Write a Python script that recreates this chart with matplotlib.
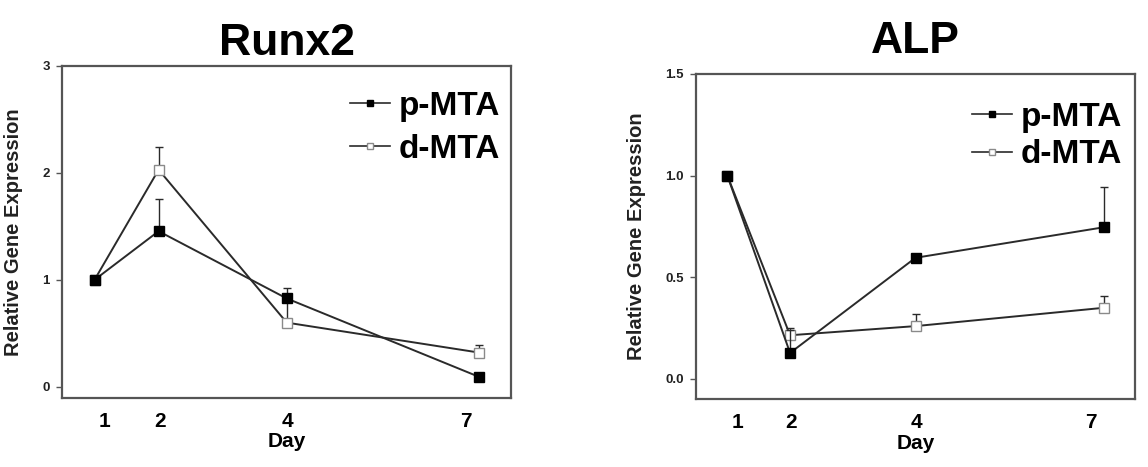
import matplotlib
matplotlib.use("Agg")
import matplotlib.pyplot as plt
import matplotlib.transforms as mtransforms
from matplotlib.lines import Line2D
import numpy as np

plt.rcParams['font.family'] = ['Liberation Sans', 'DejaVu Sans']

days = [1, 2, 4, 7]
day_labels = ['1', '2', '4', '7']
series_names = ['p-MTA', 'd-MTA']

runx2_p = [1.0, 1.455, 0.826, 0.093]
runx2_p_err = [0.0, 0.305, 0.094, 0.0]
runx2_d = [1.0, 2.03, 0.60, 0.32]
runx2_d_err = [0.0, 0.21, 0.21, 0.07]

alp_p = [1.0, 0.128, 0.596, 0.746]
alp_p_err = [0.0, 0.115, 0.0, 0.20]
alp_d = [1.0, 0.215, 0.26, 0.35]
alp_d_err = [0.0, 0.035, 0.06, 0.06]

runx2_yticks = [0, 1, 2, 3]
runx2_yticklabels = ['0', '1', '2', '3']
alp_yticks = [0.0, 0.5, 1.0, 1.5]
alp_yticklabels = ['0.0', '0.5', '1.0', '1.5']

W, H = 1148, 467
fig = plt.figure(figsize=(W / 100, H / 100), dpi=100)

line_col = '#2a2a2a'
spine_col = '#555555'
open_edge = '#8a8a8a'
# small horizontal nudges (pixels) of the day labels, as in the original figure
label_nudge_px = [10, 1, 1, -13]


def panel(rect, title, p, perr, d, derr, yticks, yticklabels, ylim, leg_anchor, leg_spacing, title_y):
    ax = fig.add_axes(rect)
    x = np.array(days, dtype=float)
    ax.errorbar(x, d, yerr=[np.zeros(len(d)), derr], color=line_col, lw=1.4,
                marker='s', ms=7.5, mfc='white', mec=open_edge, mew=1.0,
                ecolor=line_col, elinewidth=1.0, capsize=3, capthick=1.0, zorder=2)
    ax.errorbar(x, p, yerr=[np.zeros(len(p)), perr], color=line_col, lw=1.4,
                marker='s', ms=7.5, mfc='black', mec='black', mew=1.0,
                ecolor=line_col, elinewidth=1.0, capsize=3, capthick=1.0, zorder=3)
    ax.set_xlim(0.5, 7.5)
    ax.set_ylim(*ylim)
    ax.set_xticks(days)
    ax.set_xticklabels(day_labels, fontsize=15, fontweight='bold')
    ax.tick_params(axis='x', length=0, pad=10)
    for lab, dx in zip(ax.get_xticklabels(), label_nudge_px):
        lab.set_transform(lab.get_transform() +
                          mtransforms.ScaledTranslation(dx / 100, 0, fig.dpi_scale_trans))
    ax.set_yticks(yticks)
    ax.set_yticklabels(yticklabels, fontsize=9.5, fontweight='bold', color='#222222')
    ax.tick_params(axis='y', length=4, width=1.0, color=spine_col, pad=5)
    for s in ax.spines.values():
        s.set_color(spine_col)
        s.set_linewidth(1.6)
    ax.set_xlabel('Day', fontsize=15, fontweight='bold', labelpad=1)
    ax.set_ylabel('Relative Gene Expression', fontsize=14.5, fontweight='bold', color='#222222')
    handles = [
        Line2D([], [], color=line_col, lw=1.2, marker='s', ms=5, mfc='black', mec='black'),
        Line2D([], [], color=line_col, lw=1.2, marker='s', ms=5, mfc='white', mec=open_edge),
    ]
    ax.legend(handles, series_names, loc='upper right', bbox_to_anchor=leg_anchor,
              frameon=False, prop={'size': 24, 'weight': 'bold'}, handlelength=1.2,
              handletextpad=0.25, labelspacing=leg_spacing,
              borderpad=0, borderaxespad=0)
    bb = ax.get_position()
    fig.text(bb.x0 + bb.width / 2, title_y, title, fontsize=32, fontweight='bold',
             ha='center', va='baseline')
    return ax


ax1 = panel([62.5 / W, 1 - 398 / H, (511 - 62.5) / W, (398 - 66) / H], 'Runx2',
            runx2_p, runx2_p_err, runx2_d, runx2_d_err,
            runx2_yticks, runx2_yticklabels, (-0.105, 3.0), (0.975, 0.925), 0.35,
            1 - 55 / H)
ax1.yaxis.set_label_coords(-0.088, 0.5)

ax2 = panel([696 / W, 1 - 399.3 / H, (1135 - 696) / W, (399.3 - 74) / H], 'ALP',
            alp_p, alp_p_err, alp_d, alp_d_err,
            alp_yticks, alp_yticklabels, (-0.1, 1.5), (0.97, 0.915), 0.2,
            1 - 53 / H)
ax2.yaxis.set_label_coords(-0.113, 0.5)

fig.savefig('out.png', dpi=100)
